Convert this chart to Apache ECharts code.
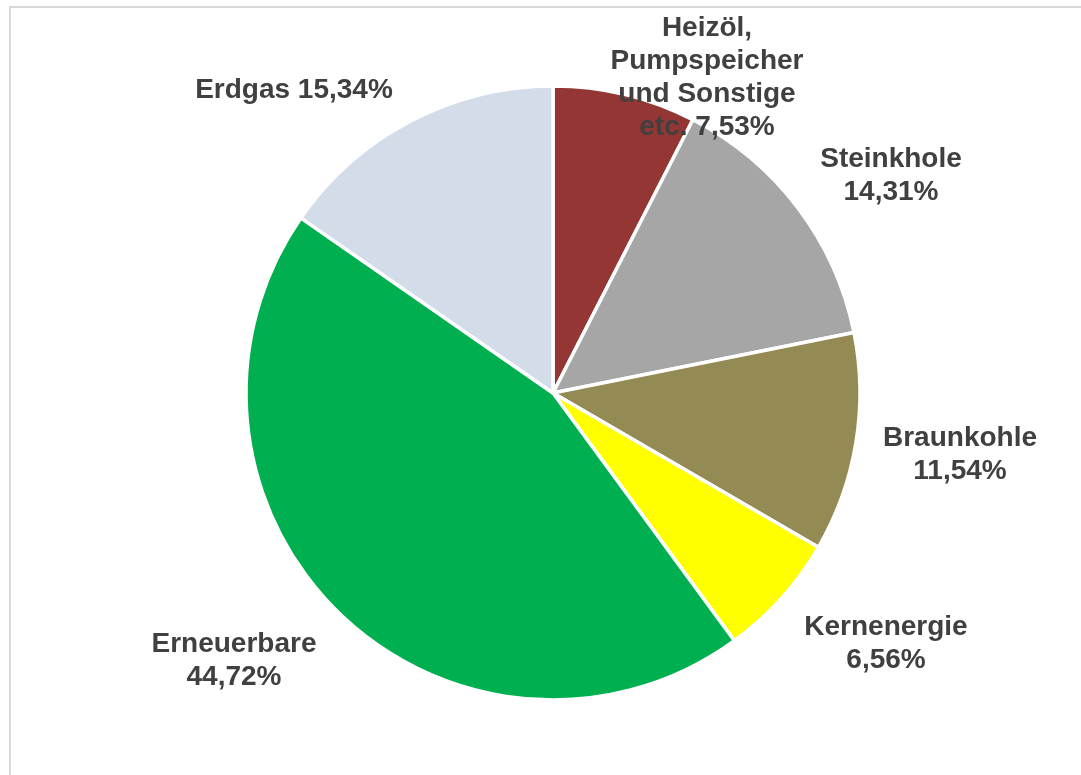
<!DOCTYPE html>
<html>
	<head>
		<meta charset="UTF-8">
		<title>Strommix</title>
		<script src="https://cdn.jsdelivr.net/npm/echarts@6/dist/echarts.min.js"></script>
		<style>
			html, body { margin: 0; padding: 0; background: #fff; }
		</style>
	</head>
	<body>

		<div id="main" style="width: 1081px;height:775px;"></div>
		<script type="text/javascript">

		// Anteile in Prozent, im Uhrzeigersinn ab 12 Uhr
		var names = ['Heizöl, Pumpspeicher und Sonstige etc.', 'Steinkhole', 'Braunkohle', 'Kernenergie', 'Erneuerbare', 'Erdgas'];
		var values = [7.53, 14.31, 11.54, 6.56, 44.72, 15.34];
		var colors = ['#943634', '#A6A6A6', '#948A54', '#FFFF00', '#00B050', '#D3DCE9'];
		// Beschriftungstext wie im Original umbrochen
		var labelTexts = ['Heizöl,\nPumpspeicher\nund Sonstige\netc.', 'Steinkhole\n', 'Braunkohle\n', 'Kernenergie\n', 'Erneuerbare\n', 'Erdgas'];

		// Lage der Beschriftungen (Mittelpunkt des Textblocks)
		var labelSpots = [[707, 78], [891, 176], [960, 455], [886, 644], [234, 661], [294, 90]];

		var myChart = echarts.init(document.getElementById('main'));

		var pieData = [];
		for (var i = 0; i < names.length; i++) {
			pieData.push({
				name: names[i],
				value: values[i],
				itemStyle: { color: colors[i] }
			});
		}

		var option = {
			animation: false,
			backgroundColor: '#fff',
			graphic: [{
				type: 'rect',
				shape: { x: 10, y: 7, width: 1200, height: 900 },
				style: { fill: 'none', stroke: '#D9D9D9', lineWidth: 2 },
				silent: true
			}],
			series: [{
				type: 'pie',
				center: [553, 393],
				radius: 307,
				startAngle: 90,
				clockwise: true,
				data: pieData,
				itemStyle: { borderColor: '#fff', borderWidth: 3.5 },
				labelLine: { show: false },
				label: {
					show: true,
					position: 'outside',
					fontFamily: 'Liberation Sans, Arial, sans-serif',
					fontWeight: 'bold',
					fontSize: 28,
					lineHeight: 33,
					color: '#404040',
					formatter: function (p) {
						var txt = labelTexts[p.dataIndex];
						var pct = p.value.toFixed(2).replace('.', ',') + '%';
						if (txt.charAt(txt.length - 1) === '\n') return txt + pct;
						return txt + ' ' + pct;
					}
				},
				labelLayout: function (p) {
					var s = labelSpots[p.dataIndex];
					return { x: s[0], y: s[1], align: 'center', verticalAlign: 'middle' };
				}
			}]
		};
		myChart.setOption(option);

	</script>

	</body>
</html>
